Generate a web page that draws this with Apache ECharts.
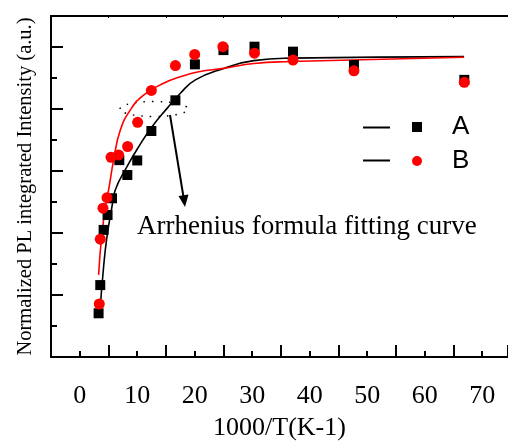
<!DOCTYPE html>
<html>
<head>
<meta charset="utf-8">
<script src="https://cdn.jsdelivr.net/npm/echarts@6/dist/echarts.min.js"></script>
<style>
html, body { margin: 0; padding: 0; background: #fff; }
#main { width: 508px; height: 441px; }
</style>
</head>
<body>
<div id="main"></div>
<script>
// measured points (1000/T, normalized intensity)
var xA = [3.28, 3.57, 4.15, 4.84, 5.61, 6.88, 8.28, 10.0, 12.46, 16.64, 20.03, 25.0, 30.4, 37.1, 47.7, 66.9];
var yA = [0.141, 0.232, 0.410, 0.458, 0.512, 0.635, 0.587, 0.634, 0.729, 0.828, 0.944, 0.990, 1.001, 0.985, 0.942, 0.894];
var xB = [3.40, 3.57, 4.04, 4.74, 5.44, 6.76, 8.33, 10.07, 12.46, 16.64, 20.0, 24.9, 30.4, 37.1, 47.7, 66.9];
var yB = [0.171, 0.380, 0.480, 0.514, 0.644, 0.652, 0.679, 0.757, 0.860, 0.940, 0.976, 1.001, 0.980, 0.958, 0.923, 0.886];

// fitting curves
var fitAx = [3.45, 4.15, 4.74, 5.61, 6.18, 8.22, 10.24, 12.58, 15.19, 17.51, 20.12, 25.05, 30.28, 36.67, 66.86];
var fitAy = [0.130, 0.291, 0.388, 0.485, 0.539, 0.614, 0.678, 0.743, 0.802, 0.851, 0.894, 0.931, 0.956, 0.964, 0.969];
var fitBx = [3.28, 3.87, 4.74, 5.02, 5.89, 7.06, 8.80, 11.11, 14.60, 17.51, 20.70, 25.05, 30.28, 36.67, 66.86];
var fitBy = [0.265, 0.399, 0.517, 0.539, 0.635, 0.732, 0.797, 0.845, 0.883, 0.904, 0.920, 0.931, 0.947, 0.953, 0.967];

var xTicks = [0, 10, 20, 30, 40, 50, 60, 70];

function pairs(xs, ys) {
  var out = [];
  for (var i = 0; i < xs.length; i++) out.push([xs[i], ys[i]]);
  return out;
}

var serif = 'Liberation Serif';
var chart = echarts.init(document.getElementById('main'));

var option = {
  animation: false,
  backgroundColor: '#fff',
  grid: { left: 51, right: 0, top: 16, bottom: 84, outerBoundsMode: 'none' },
  legend: {
    orient: 'vertical',
    left: 407,
    top: 109,
    itemWidth: 10,
    itemHeight: 10,
    itemGap: 8,
    textStyle: { fontFamily: 'Liberation Sans', fontSize: 26, color: '#000', padding: [0, 0, 0, 25] },
    data: [
      { name: 'A', icon: 'rect' },
      { name: 'B', icon: 'circle' }
    ]
  },
  xAxis: [{
    type: 'value',
    min: -5,
    max: 74.5,
    interval: 10,
    name: '1000/T(K-1)',
    nameLocation: 'middle',
    nameGap: 58,
    nameTextStyle: { fontFamily: serif, fontSize: 26, color: '#000' },
    axisLine: { onZero: false, lineStyle: { color: '#000', width: 2 } },
    axisTick: { inside: true, length: 12, lineStyle: { width: 2 } },
    minorTick: { show: true, splitNumber: 2, length: 6, lineStyle: { color: '#000', width: 2 } },
    splitLine: { show: false },
    axisLabel: {
      fontFamily: serif, fontSize: 26, color: '#000', margin: 26,
      customValues: xTicks,
      formatter: function (v) { return String(v); }
    }
  }, {
    type: 'value',
    position: 'top',
    min: -5,
    max: 74.5,
    interval: 10,
    axisLine: { onZero: false, lineStyle: { color: '#000', width: 2 } },
    axisTick: { inside: true, length: 2, lineStyle: { width: 1 } },
    minorTick: { show: true, splitNumber: 2, length: 1, lineStyle: { color: '#000', width: 1 } },
    splitLine: { show: false },
    axisLabel: { show: false }
  }],
  yAxis: {
    type: 'value',
    min: 0,
    max: 1.1,
    interval: 0.2,
    name: 'Normalized PL integrated Intensity (a.u.)',
    nameLocation: 'middle',
    nameGap: 15,
    nameTextStyle: { fontFamily: serif, fontSize: 20.5, color: '#000' },
    axisLine: { onZero: false, lineStyle: { color: '#000', width: 2 } },
    axisTick: { inside: true, length: 12, lineStyle: { width: 2 } },
    minorTick: { show: true, splitNumber: 2, length: 6, lineStyle: { color: '#000', width: 2 } },
    splitLine: { show: false },
    axisLabel: { show: false }
  },
  series: [
    {
      name: 'A fit', type: 'line', smooth: true, showSymbol: false, z: 2,
      lineStyle: { color: '#000', width: 1.6 },
      data: pairs(fitAx, fitAy)
    },
    {
      name: 'B fit', type: 'line', smooth: true, showSymbol: false, z: 3,
      lineStyle: { color: '#ff0000', width: 1.6 },
      data: pairs(fitBx, fitBy)
    },
    {
      name: 'A', type: 'scatter', symbol: 'rect', symbolSize: 10, z: 4,
      itemStyle: { color: '#000', opacity: 1 },
      data: pairs(xA, yA)
    },
    {
      name: 'B', type: 'scatter', symbol: 'circle', symbolSize: 11, z: 5,
      itemStyle: { color: '#ff0000', opacity: 1 },
      data: pairs(xB, yB)
    }
  ],
  graphic: [
    // legend lines (black for both)
    { type: 'line', shape: { x1: 363, y1: 127.5, x2: 390, y2: 127.5 }, style: { stroke: '#000', lineWidth: 2 } },
    { type: 'line', shape: { x1: 363, y1: 160.5, x2: 390, y2: 160.5 }, style: { stroke: '#000', lineWidth: 2 } },
    // dotted ellipse marking the fit
    { type: 'ellipse', shape: { cx: 154, cy: 109, rx: 34, ry: 7.5 },
      style: { fill: 'none', stroke: '#000', lineWidth: 1.5, lineDash: [1.5, 7] } },
    // arrow
    { type: 'line', shape: { x1: 170, y1: 115, x2: 183.5, y2: 197 }, style: { stroke: '#000', lineWidth: 2 } },
    { type: 'polygon', shape: { points: [[185, 207], [188.5, 194.5], [178.5, 196]] }, style: { fill: '#000' } },
    { type: 'text', left: 137, top: 213,
      style: { text: 'Arrhenius formula fitting curve', font: '27px "Liberation Serif"', fill: '#000' } }
  ]
};

chart.setOption(option);
</script>
</body>
</html>
